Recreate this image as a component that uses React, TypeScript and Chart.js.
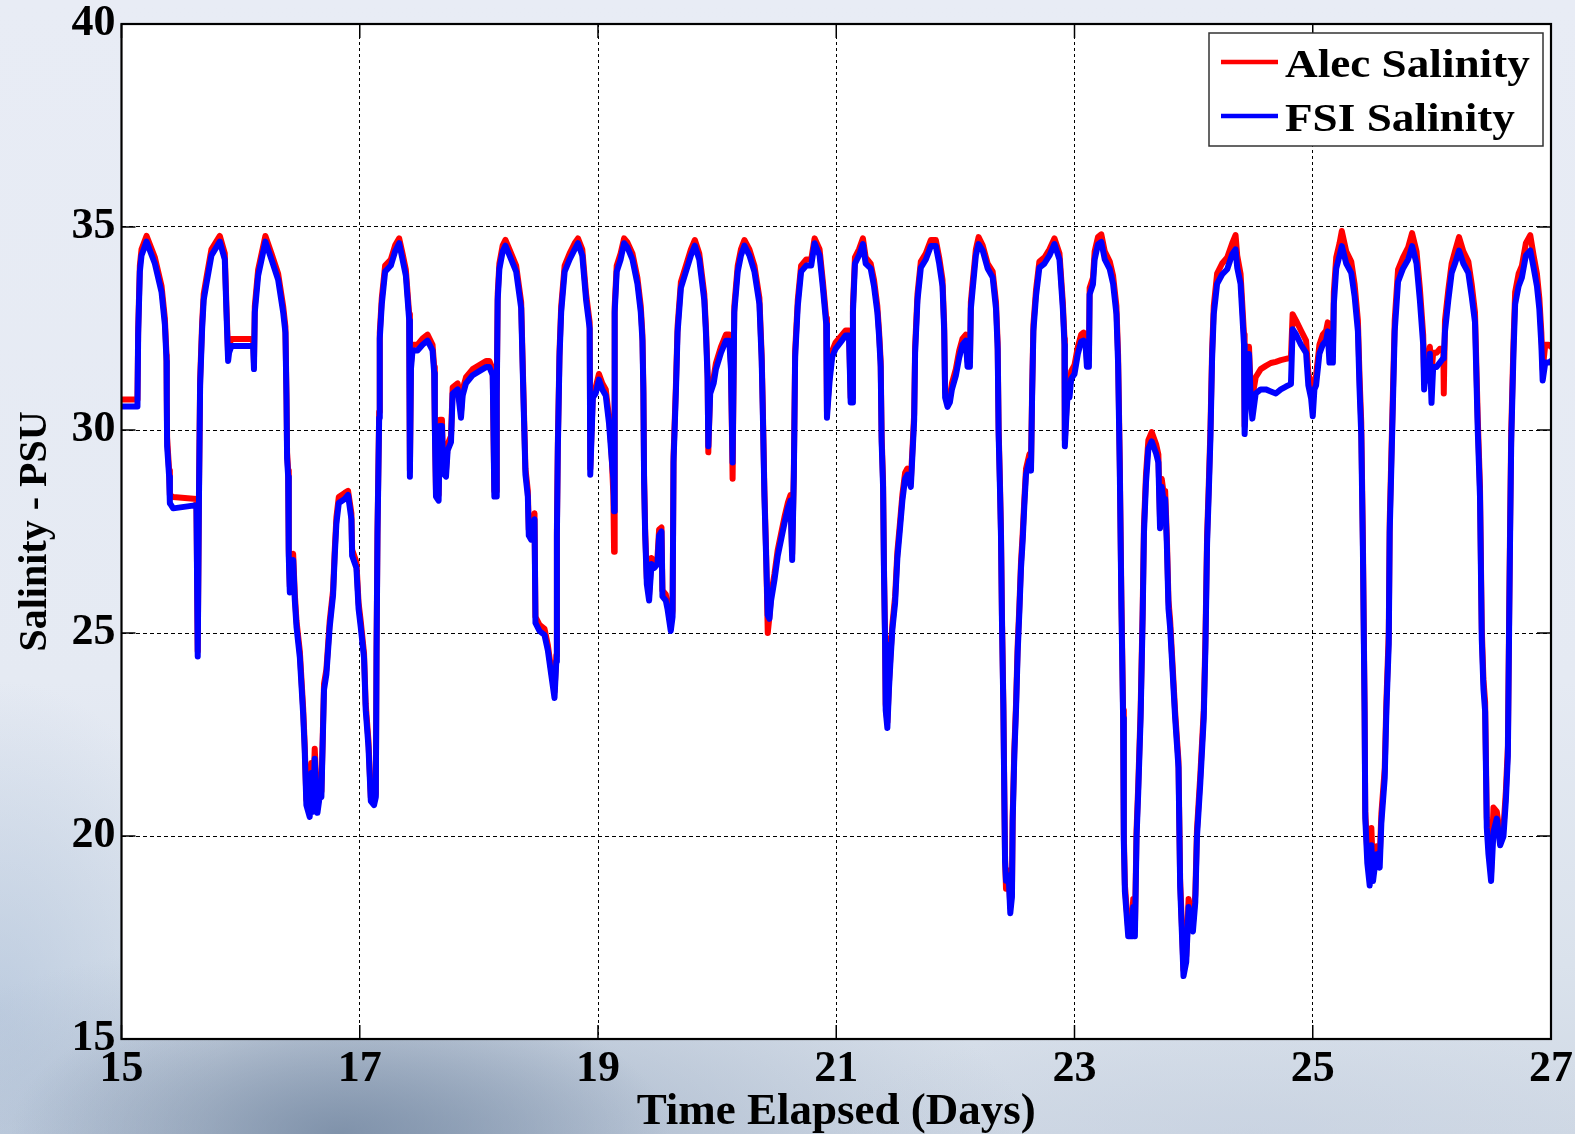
import React, { useEffect, useRef } from "react";
import { Chart, registerables } from "chart.js";

Chart.register(...registerables);

// ---- data ----
const TIME_DAYS: number[] = [
  15.000, 15.134, 15.140, 15.154, 15.168, 15.210, 15.280, 15.336, 15.364, 15.378,
  15.380, 15.383, 15.400, 15.406, 15.434, 15.629, 15.640, 15.650, 15.660, 15.677,
  15.690, 15.713, 15.755, 15.825, 15.867, 15.881, 15.895, 15.903, 15.923, 16.105,
  16.112, 16.119, 16.147, 16.208, 16.259, 16.315, 16.357, 16.376, 16.385, 16.390,
  16.399, 16.404, 16.413, 16.427, 16.441, 16.455, 16.469, 16.497, 16.525, 16.538,
  16.552, 16.580, 16.594, 16.608, 16.622, 16.645, 16.665, 16.678, 16.700, 16.720,
  16.748, 16.776, 16.790, 16.804, 16.824, 16.874, 16.902, 16.930, 16.936, 16.972,
  16.990, 17.008, 17.036, 17.050, 17.073, 17.093, 17.120, 17.135, 17.141, 17.149,
  17.163, 17.168, 17.185, 17.213, 17.261, 17.297, 17.331, 17.359, 17.387, 17.415,
  17.421, 17.430, 17.443, 17.485, 17.527, 17.569, 17.611, 17.625, 17.630, 17.640,
  17.662, 17.673, 17.690, 17.701, 17.724, 17.738, 17.766, 17.780, 17.822, 17.850,
  17.864, 17.892, 17.948, 18.004, 18.060, 18.088, 18.116, 18.130, 18.144, 18.150,
  18.158, 18.172, 18.200, 18.223, 18.257, 18.313, 18.355, 18.374, 18.391, 18.411,
  18.419, 18.439, 18.467, 18.475, 18.509, 18.551, 18.579, 18.607, 18.635, 18.650,
  18.655, 18.663, 18.677, 18.691, 18.720, 18.762, 18.804, 18.832, 18.868, 18.900,
  18.930, 18.935, 18.957, 18.980, 19.008, 19.036, 19.065, 19.093, 19.112, 19.129,
  19.135, 19.140, 19.157, 19.190, 19.219, 19.247, 19.289, 19.331, 19.359, 19.373,
  19.381, 19.387, 19.396, 19.410, 19.429, 19.449, 19.471, 19.499, 19.513, 19.533,
  19.541, 19.569, 19.583, 19.611, 19.626, 19.634, 19.654, 19.668, 19.696, 19.738,
  19.780, 19.813, 19.850, 19.892, 19.906, 19.920, 19.926, 19.942, 19.971, 19.990,
  20.032, 20.074, 20.102, 20.116, 20.130, 20.144, 20.173, 20.200, 20.229, 20.271,
  20.313, 20.355, 20.374, 20.383, 20.397, 20.411, 20.425, 20.439, 20.453, 20.481,
  20.509, 20.537, 20.565, 20.593, 20.616, 20.630, 20.644, 20.655, 20.677, 20.705,
  20.748, 20.790, 20.818, 20.860, 20.888, 20.916, 20.922, 20.944, 20.966, 20.994,
  21.036, 21.079, 21.107, 21.121, 21.135, 21.140, 21.157, 21.191, 21.224, 21.247,
  21.289, 21.317, 21.345, 21.359, 21.373, 21.381, 21.393, 21.401, 21.410, 21.415,
  21.429, 21.443, 21.457, 21.471, 21.494, 21.513, 21.533, 21.555, 21.578, 21.597,
  21.626, 21.645, 21.654, 21.662, 21.682, 21.710, 21.752, 21.794, 21.836, 21.864,
  21.892, 21.906, 21.914, 21.934, 21.954, 21.971, 22.004, 22.032, 22.060, 22.088,
  22.102, 22.122, 22.130, 22.144, 22.172, 22.195, 22.229, 22.271, 22.313, 22.341,
  22.355, 22.363, 22.374, 22.383, 22.391, 22.403, 22.411, 22.417, 22.425, 22.447,
  22.461, 22.475, 22.481, 22.495, 22.509, 22.523, 22.537, 22.551, 22.565, 22.579,
  22.593, 22.621, 22.635, 22.644, 22.655, 22.677, 22.705, 22.748, 22.790, 22.832,
  22.874, 22.902, 22.916, 22.919, 22.930, 22.944, 22.958, 22.972, 23.000, 23.028,
  23.056, 23.076, 23.093, 23.104, 23.121, 23.127, 23.155, 23.169, 23.197, 23.225,
  23.254, 23.296, 23.324, 23.352, 23.366, 23.380, 23.394, 23.408, 23.414, 23.423,
  23.451, 23.479, 23.493, 23.507, 23.521, 23.535, 23.555, 23.572, 23.583, 23.600,
  23.620, 23.648, 23.685, 23.704, 23.718, 23.732, 23.746, 23.761, 23.775, 23.789,
  23.803, 23.817, 23.845, 23.873, 23.887, 23.901, 23.915, 23.938, 23.958, 23.972,
  23.994, 24.014, 24.028, 24.056, 24.085, 24.099, 24.113, 24.127, 24.141, 24.155,
  24.169, 24.197, 24.239, 24.282, 24.324, 24.352, 24.366, 24.394, 24.423, 24.428,
  24.445, 24.465, 24.479, 24.493, 24.521, 24.563, 24.606, 24.648, 24.690, 24.732,
  24.775, 24.817, 24.831, 24.859, 24.901, 24.944, 24.963, 24.986, 25.000, 25.014,
  25.028, 25.056, 25.084, 25.112, 25.126, 25.140, 25.169, 25.177, 25.197, 25.225,
  25.244, 25.281, 25.323, 25.351, 25.379, 25.393, 25.407, 25.421, 25.435, 25.441,
  25.458, 25.478, 25.492, 25.506, 25.534, 25.562, 25.576, 25.604, 25.618, 25.638,
  25.646, 25.660, 25.674, 25.688, 25.716, 25.758, 25.801, 25.834, 25.871, 25.899,
  25.927, 25.935, 25.955, 25.969, 25.983, 25.997, 26.011, 26.039, 26.067, 26.096,
  26.100, 26.110, 26.138, 26.166, 26.194, 26.228, 26.264, 26.306, 26.334, 26.362,
  26.385, 26.404, 26.419, 26.433, 26.447, 26.461, 26.475, 26.497, 26.517, 26.545,
  26.573, 26.601, 26.621, 26.638, 26.649, 26.657, 26.666, 26.685, 26.699, 26.728,
  26.756, 26.789, 26.826, 26.854, 26.882, 26.902, 26.919, 26.930, 26.952, 26.980,
  27.000,
];

const FSI_SALINITY: number[] = [
  30.58, 30.58, 32.35, 33.90, 34.30, 34.64, 34.10, 33.40, 32.60, 31.70,
  30.70, 29.60, 28.85, 28.20, 28.07, 28.15, 24.42, 28.20, 31.10, 32.50,
  33.20, 33.60, 34.30, 34.64, 34.20, 32.90, 31.70, 31.90, 32.07, 32.07,
  31.50, 32.90, 33.80, 34.64, 34.20, 33.70, 32.90, 32.40, 30.75, 29.30,
  28.85, 26.90, 26.00, 26.50, 26.80, 25.80, 25.15, 24.40, 23.00, 22.10,
  20.76, 20.47, 21.55, 20.60, 21.90, 20.57, 21.00, 20.96, 23.60, 23.98,
  25.15, 25.93, 26.90, 27.70, 28.20, 28.30, 28.40, 27.80, 26.90, 26.60,
  25.60, 25.15, 24.38, 23.10, 22.20, 20.86, 20.76, 20.96, 24.50, 27.40,
  30.30, 32.25, 33.10, 33.90, 34.05, 34.40, 34.60, 34.20, 33.80, 32.70,
  28.85, 31.50, 31.96, 31.96, 32.10, 32.20, 31.96, 31.40, 30.10, 28.36,
  28.26, 30.10, 30.10, 28.93, 28.85, 29.50, 29.70, 30.90, 31.00, 30.30,
  30.85, 31.15, 31.35, 31.45, 31.55, 31.55, 31.35, 28.36, 28.36, 30.80,
  33.20, 33.97, 34.40, 34.54, 34.30, 33.90, 33.00, 30.80, 28.90, 28.36,
  27.40, 27.30, 27.80, 25.25, 25.05, 24.95, 24.57, 23.98, 23.40, 24.30,
  27.40, 29.55, 31.80, 32.90, 33.90, 34.20, 34.45, 34.60, 34.30, 33.20,
  32.50, 28.90, 30.80, 30.90, 31.24, 31.00, 30.85, 30.15, 29.40, 28.80,
  28.00, 32.90, 33.90, 34.20, 34.60, 34.50, 34.20, 33.60, 32.90, 32.20,
  30.90, 28.70, 27.40, 26.20, 25.80, 26.70, 26.60, 26.70, 27.40, 27.50,
  25.90, 25.80, 25.60, 25.05, 25.40, 29.20, 30.95, 32.40, 33.50, 33.90,
  34.30, 34.54, 34.20, 33.20, 32.40, 31.25, 29.60, 30.90, 31.15, 31.50,
  31.90, 32.20, 32.20, 31.50, 29.20, 32.90, 33.90, 34.30, 34.54, 34.30,
  33.90, 33.10, 31.70, 30.50, 28.36, 26.90, 25.44, 25.35, 25.80, 26.30,
  26.90, 27.30, 27.70, 28.06, 28.26, 26.80, 28.85, 31.80, 33.05, 33.90,
  34.05, 34.05, 34.60, 34.30, 33.50, 32.60, 30.30, 31.20, 31.80, 32.00,
  32.16, 32.33, 32.33, 30.68, 30.68, 32.90, 34.10, 34.30, 34.58, 34.10,
  33.98, 33.54, 32.90, 32.33, 31.56, 29.70, 28.60, 26.40, 24.75, 23.10,
  22.66, 23.65, 24.40, 25.08, 25.74, 26.84, 27.50, 28.26, 28.80, 28.90,
  28.60, 29.70, 30.24, 31.90, 33.20, 34.00, 34.20, 34.53, 34.53, 34.10,
  33.54, 32.44, 30.80, 30.57, 30.68, 31.00, 31.34, 31.78, 32.10, 32.20,
  31.56, 31.56, 32.99, 33.43, 34.30, 34.58, 34.42, 33.98, 33.76, 32.99,
  32.00, 29.90, 28.60, 27.38, 25.30, 23.10, 20.90, 19.36, 18.90, 19.03,
  18.10, 18.50, 20.36, 22.00, 23.10, 24.53, 25.50, 26.60, 27.27, 28.15,
  28.90, 29.25, 29.00, 30.80, 32.44, 33.30, 34.00, 34.10, 34.30, 34.58,
  34.20, 32.99, 32.10, 29.60, 30.24, 31.00, 30.80, 31.26, 31.38, 31.87,
  32.18, 32.20, 32.10, 31.56, 31.56, 33.34, 33.59, 34.20, 34.57, 34.63,
  34.20, 33.96, 33.60, 32.85, 31.63, 29.05, 25.60, 22.90, 19.85, 18.63,
  17.53, 17.53, 18.25, 17.53, 19.97, 21.07, 22.90, 25.35, 27.45, 28.70,
  29.54, 29.72, 29.42, 29.20, 27.58, 28.60, 28.30, 28.30, 27.20, 25.60,
  25.12, 24.39, 22.90, 21.68, 18.75, 17.65, 16.55, 16.90, 18.25, 17.76,
  17.65, 18.37, 19.97, 21.30, 22.90, 24.63, 27.20, 28.44, 29.79, 31.75,
  32.85, 33.60, 33.83, 33.96, 34.33, 34.45, 34.00, 33.60, 32.10, 29.90,
  31.26, 31.87, 30.77, 30.28, 30.90, 31.00, 31.00, 30.95, 30.90, 31.00,
  31.07, 31.13, 32.48, 32.36, 32.10, 31.90, 31.10, 30.78, 30.34, 31.00,
  31.10, 31.88, 32.10, 32.20, 32.43, 31.66, 31.66, 33.10, 33.98, 34.30,
  34.53, 34.10, 33.87, 33.30, 32.43, 31.00, 29.90, 27.04, 23.07, 20.43,
  19.33, 18.78, 19.77, 18.89, 19.55, 19.22, 20.32, 21.42, 23.07, 24.72,
  27.48, 29.13, 30.78, 32.43, 33.65, 33.98, 34.20, 34.53, 34.10, 33.20,
  32.10, 31.00, 31.66, 31.22, 31.88, 30.67, 31.55, 31.55, 31.66, 31.77,
  31.80, 32.43, 33.20, 33.87, 34.10, 34.42, 34.10, 33.87, 33.30, 32.65,
  30.00, 28.36, 24.83, 23.62, 23.07, 20.20, 19.55, 18.89, 20.10, 20.43,
  19.77, 19.99, 20.87, 21.97, 25.27, 27.48, 29.68, 31.88, 33.10, 33.54,
  33.76, 34.30, 34.42, 34.00, 33.54, 32.98, 32.10, 31.22, 31.66, 31.66,
  31.70,
];

const ALEC_SALINITY: number[] = [
  30.75, 30.75, 32.50, 34.05, 34.45, 34.78, 34.25, 33.55, 32.75, 31.85,
  30.85, 29.80, 29.00, 28.40, 28.35, 28.30, 24.55, 28.35, 31.25, 32.65,
  33.35, 33.75, 34.45, 34.78, 34.35, 33.05, 31.85, 32.10, 32.24, 32.24,
  31.65, 33.05, 33.95, 34.78, 34.35, 33.85, 33.05, 32.55, 30.90, 29.45,
  29.00, 27.05, 26.15, 26.65, 26.95, 25.95, 25.30, 24.55, 23.15, 22.25,
  20.90, 20.60, 21.80, 20.75, 22.15, 20.70, 21.15, 21.10, 23.75, 24.10,
  25.30, 26.05, 27.05, 27.85, 28.35, 28.45, 28.50, 27.95, 27.05, 26.75,
  25.75, 25.30, 24.50, 23.25, 22.35, 20.95, 20.85, 21.05, 24.65, 27.55,
  30.45, 32.40, 33.25, 34.05, 34.20, 34.55, 34.72, 34.35, 33.95, 32.85,
  29.00, 31.65, 32.10, 32.10, 32.25, 32.35, 32.10, 31.55, 30.25, 28.50,
  28.40, 30.25, 30.25, 29.05, 29.00, 29.65, 29.85, 31.05, 31.15, 30.45,
  31.00, 31.30, 31.50, 31.60, 31.70, 31.70, 31.50, 28.50, 28.50, 30.95,
  33.35, 34.10, 34.55, 34.68, 34.45, 34.05, 33.15, 30.95, 29.05, 28.50,
  27.55, 27.45, 27.95, 25.40, 25.20, 25.10, 24.70, 24.10, 23.55, 24.45,
  27.55, 29.70, 31.95, 33.05, 34.05, 34.35, 34.60, 34.72, 34.45, 33.35,
  32.65, 29.05, 30.95, 31.05, 31.38, 31.15, 31.00, 30.30, 29.55, 28.40,
  27.00, 33.05, 34.05, 34.35, 34.72, 34.62, 34.35, 33.75, 33.05, 32.35,
  31.05, 28.85, 27.55, 26.35, 25.95, 26.85, 26.75, 26.85, 27.55, 27.60,
  26.05, 25.95, 25.75, 25.20, 25.55, 29.35, 31.10, 32.55, 33.65, 34.05,
  34.45, 34.68, 34.35, 33.35, 32.55, 31.40, 29.45, 31.05, 31.30, 31.65,
  32.05, 32.35, 32.35, 31.65, 28.80, 33.05, 34.05, 34.45, 34.68, 34.45,
  34.05, 33.25, 31.85, 30.65, 28.50, 27.05, 25.00, 25.40, 25.95, 26.45,
  27.05, 27.45, 27.85, 28.20, 28.40, 26.95, 29.00, 31.95, 33.20, 34.05,
  34.20, 34.20, 34.72, 34.45, 33.65, 32.75, 30.45, 31.35, 31.95, 32.15,
  32.30, 32.45, 32.45, 30.80, 30.80, 33.05, 34.25, 34.45, 34.72, 34.25,
  34.10, 33.70, 33.05, 32.45, 31.70, 29.85, 28.75, 26.55, 24.90, 23.25,
  22.80, 23.80, 24.55, 25.20, 25.90, 27.00, 27.65, 28.40, 28.95, 29.05,
  28.75, 29.85, 30.40, 32.05, 33.35, 34.15, 34.35, 34.68, 34.68, 34.25,
  33.70, 32.60, 30.95, 30.70, 30.80, 31.15, 31.50, 31.95, 32.25, 32.35,
  31.70, 31.70, 33.15, 33.60, 34.45, 34.75, 34.55, 34.10, 33.90, 33.15,
  32.15, 30.05, 28.75, 27.50, 25.45, 23.25, 21.05, 19.50, 18.70, 19.15,
  18.25, 18.65, 20.50, 22.15, 23.25, 24.70, 25.65, 26.75, 27.45, 28.30,
  29.05, 29.40, 29.15, 30.95, 32.60, 33.45, 34.15, 34.25, 34.45, 34.72,
  34.35, 33.15, 32.25, 29.75, 30.40, 31.15, 30.95, 31.45, 31.60, 32.05,
  32.35, 32.40, 32.30, 31.75, 31.75, 33.50, 33.75, 34.40, 34.75, 34.82,
  34.40, 34.15, 33.80, 33.05, 31.85, 29.25, 25.80, 23.10, 20.05, 18.80,
  17.70, 17.70, 18.45, 17.70, 20.15, 21.25, 23.10, 25.55, 27.65, 28.90,
  29.75, 29.95, 29.65, 29.40, 27.80, 28.80, 28.50, 28.50, 27.40, 25.80,
  25.30, 24.55, 23.05, 21.85, 18.90, 17.85, 16.70, 17.05, 18.45, 17.95,
  17.85, 18.55, 20.15, 21.50, 23.10, 24.85, 27.40, 28.65, 30.00, 31.95,
  33.05, 33.85, 34.10, 34.25, 34.60, 34.80, 34.30, 33.85, 32.35, 30.10,
  31.50, 32.05, 31.00, 30.80, 31.30, 31.50, 31.58, 31.65, 31.68, 31.72,
  31.75, 31.78, 32.85, 32.70, 32.45, 32.20, 31.40, 31.10, 30.90, 31.20,
  31.35, 32.10, 32.35, 32.45, 32.65, 31.90, 31.90, 33.40, 34.25, 34.60,
  34.90, 34.40, 34.15, 33.60, 32.70, 31.30, 30.20, 27.30, 23.30, 20.60,
  19.60, 19.00, 20.20, 19.10, 19.75, 19.45, 20.55, 21.65, 23.30, 25.00,
  27.75, 29.40, 31.05, 32.70, 33.95, 34.25, 34.50, 34.85, 34.40, 33.50,
  32.35, 31.30, 31.90, 31.80, 32.05, 31.40, 31.90, 31.90, 32.00, 32.00,
  30.90, 32.70, 33.45, 34.10, 34.40, 34.75, 34.40, 34.15, 33.60, 32.90,
  30.30, 28.60, 25.10, 23.85, 23.30, 20.45, 19.80, 19.10, 20.70, 20.60,
  20.00, 20.20, 21.10, 22.20, 25.55, 27.75, 29.95, 32.15, 33.40, 33.85,
  34.05, 34.60, 34.80, 34.30, 33.85, 33.25, 32.40, 31.50, 32.10, 32.10,
  32.05,
];

const SERIES_LABELS = ["Alec Salinity", "FSI Salinity"];
const SERIES_COLORS = ["#ff0000", "#0000ff"];
const X_RANGE = [15, 27];
const X_STEP = 2;
const Y_RANGE = [15, 40];
const Y_STEP = 5;
const X_TITLE = "Time Elapsed (Days)";
const Y_TITLE = "Salinity - PSU";

const FONT = "'Liberation Serif', 'Times New Roman', serif";

const plotBackground = {
  id: "plotBackground",
  beforeDraw(chart: any) {
    const { ctx, chartArea: a } = chart;
    ctx.save();
    ctx.fillStyle = "#ffffff";
    ctx.fillRect(a.left, a.top, a.right - a.left, a.bottom - a.top);
    ctx.restore();
  },
};

const axesFrame = {
  id: "axesFrame",
  afterDatasetsDraw(chart: any) {
    const { ctx, chartArea: a, scales } = chart;
    ctx.save();
    ctx.setLineDash([]);
    ctx.strokeStyle = "#000";
    ctx.lineWidth = 1.5;
    const L = 14;
    ctx.beginPath();
    scales.x.ticks.forEach((t: any) => {
      const px = scales.x.getPixelForValue(t.value);
      ctx.moveTo(px, a.bottom);
      ctx.lineTo(px, a.bottom - L);
      ctx.moveTo(px, a.top);
      ctx.lineTo(px, a.top + L);
    });
    scales.y.ticks.forEach((t: any) => {
      const py = scales.y.getPixelForValue(t.value);
      ctx.moveTo(a.left, py);
      ctx.lineTo(a.left + L, py);
      ctx.moveTo(a.right, py);
      ctx.lineTo(a.right - L, py);
    });
    ctx.stroke();
    ctx.lineWidth = 2.2;
    ctx.strokeRect(a.left, a.top, a.right - a.left, a.bottom - a.top);
    ctx.restore();
  },
};

const boxLegend = {
  id: "boxLegend",
  afterDraw(chart: any) {
    const { ctx, chartArea: a } = chart;
    const w = 334;
    const h = 113;
    const x0 = a.right - 8 - w;
    const y0 = a.top + 9;
    ctx.save();
    ctx.setLineDash([]);
    ctx.fillStyle = "#ffffff";
    ctx.fillRect(x0, y0, w, h);
    ctx.strokeStyle = "#333";
    ctx.lineWidth = 1.5;
    ctx.strokeRect(x0, y0, w, h);
    chart.data.datasets.forEach((ds: any, i: number) => {
      const cy = y0 + 29 + i * 54;
      ctx.strokeStyle = ds.borderColor;
      ctx.lineWidth = 4.5;
      ctx.beginPath();
      ctx.moveTo(x0 + 12, cy);
      ctx.lineTo(x0 + 69, cy);
      ctx.stroke();
      ctx.save();
      ctx.translate(x0 + 76, cy + 14.5);
      ctx.scale(1.13, 1);
      ctx.font = `bold 40px ${FONT}`;
      ctx.fillStyle = "#000";
      ctx.textBaseline = "alphabetic";
      ctx.fillText(ds.label, 0, 0);
      ctx.restore();
    });
    ctx.restore();
  },
};

export default function App() {
  const canvasRef = useRef<HTMLCanvasElement | null>(null);

  useEffect(() => {
    const canvas = canvasRef.current;
    if (!canvas) return;
    const series = [ALEC_SALINITY, FSI_SALINITY];
    const chart = new Chart(canvas, {
      type: "line",
      data: {
        datasets: series.map((vals, i) => ({
          label: SERIES_LABELS[i],
          data: TIME_DAYS.map((t, k) => ({ x: t, y: vals[k] })),
          borderColor: SERIES_COLORS[i],
          backgroundColor: SERIES_COLORS[i],
          borderWidth: 6,
          pointRadius: 0,
          tension: 0,
          fill: false,
          borderJoinStyle: "round",
          borderCapStyle: "round",
          order: i === 0 ? 1 : 0,
        })),
      },
      options: {
        responsive: false,
        maintainAspectRatio: false,
        devicePixelRatio: 1,
        animation: false,
        events: [],
        layout: { padding: { top: 24, right: 24, left: 0, bottom: 0 } },
        plugins: {
          legend: { display: false },
          tooltip: { enabled: false },
        },
        scales: {
          x: {
            type: "linear",
            min: X_RANGE[0],
            max: X_RANGE[1],
            ticks: {
              stepSize: X_STEP,
              color: "#000",
              padding: 1.5,
              maxRotation: 0,
              font: { family: FONT, size: 44, weight: "bold", lineHeight: 1.32 },
            },
            grid: { color: "#000", lineWidth: 1, drawTicks: false },
            border: { display: false, dash: [3, 3] },
            title: {
              display: true,
              text: X_TITLE,
              color: "#000",
              padding: { top: 0, bottom: 0 },
              font: { family: FONT, size: 45, weight: "bold", lineHeight: 0.98 },
            },
            afterFit(scale: any) {
              scale.height = 95;
            },
          },
          y: {
            type: "linear",
            min: Y_RANGE[0],
            max: Y_RANGE[1],
            ticks: {
              stepSize: Y_STEP,
              color: "#000",
              padding: 6,
              font: { family: FONT, size: 44, weight: "bold", lineHeight: 0.8 },
            },
            grid: { color: "#000", lineWidth: 1, drawTicks: false },
            border: { display: false, dash: [4, 3] },
            title: {
              display: true,
              text: Y_TITLE,
              color: "#000",
              padding: { top: 12, bottom: 0 },
              font: { family: FONT, size: 40, weight: "bold", lineHeight: 1.2 },
            },
            afterFit(scale: any) {
              scale.width = 121.5;
            },
          },
        },
      },
      plugins: [plotBackground, axesFrame, boxLegend],
    } as any);
    return () => chart.destroy();
  }, []);

  const bg = [
    "radial-gradient(ellipse 330px 150px at 340px 1134px, rgba(112,132,158,0.75), rgba(112,132,158,0) 100%)",
    "radial-gradient(ellipse 600px 210px at 430px 1134px, rgba(148,166,190,0.65), rgba(148,166,190,0) 100%)",
    "radial-gradient(ellipse 220px 330px at 0px 1010px, rgba(168,188,214,0.55), rgba(168,188,214,0) 100%)",
    "radial-gradient(ellipse 420px 120px at 1250px 1134px, rgba(195,206,222,0.5), rgba(195,206,222,0) 100%)",
    "linear-gradient(180deg, #e8ecf5 0%, #e5eaf3 60%, #dae2ec 85%, #d0d9e5 100%)",
  ].join(",");

  return (
    <div
      style={{
        position: "absolute",
        left: 0,
        top: 0,
        width: 1575,
        height: 1134,
        overflow: "hidden",
        background: bg,
      }}
    >
      <canvas
        ref={canvasRef}
        width={1575}
        height={1134}
        style={{ display: "block", width: 1575, height: 1134 }}
      />
    </div>
  );
}
